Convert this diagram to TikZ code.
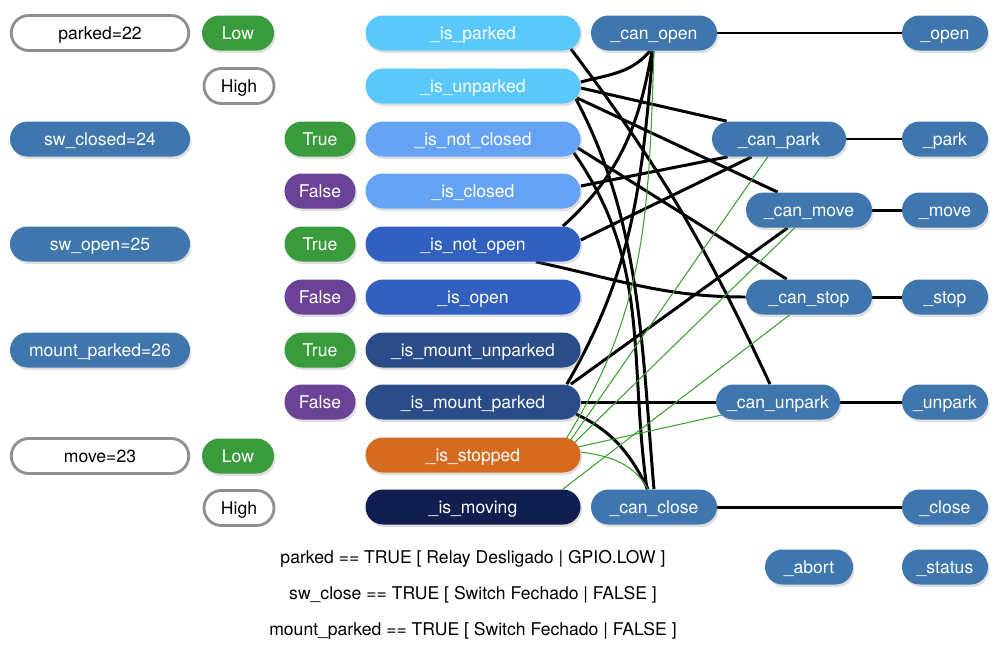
\documentclass[tikz,border=0pt]{standalone}
\usepackage{fontspec}
\setmainfont{TeX Gyre Heros}
\usetikzlibrary{positioning, calc, shadows, backgrounds}

\definecolor{pinblue}{RGB}{63,118,173}
\definecolor{lowgreen}{RGB}{58,155,60}
\definecolor{falsepurple}{RGB}{106,66,150}
\definecolor{parkcyan}{RGB}{90,200,250}
\definecolor{closedblue}{RGB}{103,163,245}
\definecolor{openblue}{RGB}{50,96,192}
\definecolor{mountblue}{RGB}{42,76,136}
\definecolor{stoporange}{RGB}{214,107,32}
\definecolor{movenavy}{RGB}{16,31,80}
\definecolor{bordergray}{RGB}{142,142,147}
\definecolor{wiregreen}{RGB}{60,160,50}

\begin{document}
\begin{tikzpicture}[x=0.2mm, y=0.2mm,
    pill/.style={rectangle, rounded corners=3.5mm, minimum height=7mm, inner sep=0pt, text=white, text height=1.8ex, text depth=0.45ex, font=\fontsize{10}{12}\selectfont},
    shadowed/.style={drop shadow={shadow xshift=0.3mm, shadow yshift=-0.5mm, opacity=0.25}},
    pinbox/.style={pill, shadowed, fill=pinblue, minimum width=36mm},
    pinwhite/.style={pill, fill=white, draw=bordergray, line width=1.6pt, text=black, minimum width=35.5mm},
    lowbox/.style={pill, shadowed, fill=lowgreen, minimum width=14.4mm},
    highbox/.style={pill, fill=white, draw=bordergray, line width=1.6pt, text=black, minimum width=14mm},
    truebox/.style={pill, shadowed, fill=lowgreen, minimum width=14.2mm},
    falsebox/.style={pill, shadowed, fill=falsepurple, minimum width=14.2mm},
    isbox/.style={pill, shadowed, minimum width=43mm},
    canbox/.style={pill, shadowed, fill=pinblue, minimum width=25.2mm},
    actbox/.style={pill, shadowed, fill=pinblue, minimum width=17.2mm},
    note/.style={font=\fontsize{10}{12}\selectfont, inner sep=0pt, text height=1.8ex, text depth=0.45ex},
    wire/.style={black, line width=1.7pt},
    greenwire/.style={wiregreen, line width=0.6pt}]

    \useasboundingbox (0, 0) rectangle (1000, -650);

    % gpio pins
    \node[pinwhite] (pin_parked) at (100, -33) {parked=22};
    \node[pinbox] (pin_sw_closed) at (100, -139) {sw\_closed=24};
    \node[pinbox] (pin_sw_open) at (100, -244) {sw\_open=25};
    \node[pinbox] (pin_mount_parked) at (100, -350) {mount\_parked=26};
    \node[pinwhite] (pin_move) at (100, -456) {move=23};

    % pin levels
    \node[lowbox] (parked_low) at (238, -33) {Low};
    \node[highbox] (parked_high) at (239, -86) {High};
    \node[truebox] (closed_true) at (320, -139) {True};
    \node[falsebox] (closed_false) at (320, -191) {False};
    \node[truebox] (open_true) at (320, -244) {True};
    \node[falsebox] (open_false) at (320, -297) {False};
    \node[truebox] (mount_true) at (320, -350) {True};
    \node[falsebox] (mount_false) at (320, -402) {False};
    \node[lowbox] (move_low) at (238, -456) {Low};
    \node[highbox] (move_high) at (239, -508) {High};

    % states
    \node[isbox, fill=parkcyan] (is_parked) at (473, -33) {\_is\_parked};
    \node[isbox, fill=parkcyan] (is_unparked) at (473, -86) {\_is\_unparked};
    \node[isbox, fill=closedblue] (is_not_closed) at (473, -139) {\_is\_not\_closed};
    \node[isbox, fill=closedblue] (is_closed) at (473, -191) {\_is\_closed};
    \node[isbox, fill=openblue] (is_not_open) at (473, -244) {\_is\_not\_open};
    \node[isbox, fill=openblue] (is_open) at (473, -297) {\_is\_open};
    \node[isbox, fill=mountblue] (is_mount_unparked) at (473, -350) {\_is\_mount\_unparked};
    \node[isbox, fill=mountblue] (is_mount_parked) at (473, -402) {\_is\_mount\_parked};
    \node[isbox, fill=stoporange] (is_stopped) at (473, -455) {\_is\_stopped};
    \node[isbox, fill=movenavy] (is_moving) at (473, -507) {\_is\_moving};

    % checks
    \node[canbox] (can_open) at (654, -33) {\_can\_open};
    \node[canbox, minimum width=26.8mm] (can_park) at (779, -139) {\_can\_park};
    \node[canbox] (can_move) at (809, -210) {\_can\_move};
    \node[canbox] (can_stop) at (809, -297) {\_can\_stop};
    \node[canbox, minimum width=24.8mm] (can_unpark) at (778, -402) {\_can\_unpark};
    \node[canbox] (can_close) at (654, -507) {\_can\_close};

    % actions
    \node[actbox] (act_open) at (945, -33) {\_open};
    \node[actbox] (act_park) at (945, -139) {\_park};
    \node[actbox] (act_move) at (945, -210) {\_move};
    \node[actbox] (act_stop) at (945, -297) {\_stop};
    \node[actbox] (act_unpark) at (945, -402) {\_unpark};
    \node[actbox] (act_close) at (945, -507) {\_close};
    \node[actbox, minimum width=17.6mm] (act_abort) at (809, -567) {\_abort};
    \node[actbox] (act_status) at (945, -567) {\_status};

    % legend
    \node[note] (note_parked) at (473, -557) {parked == TRUE [ Relay Desligado | GPIO.LOW ]};
    \node[note] (note_sw_close) at (473, -593) {sw\_close == TRUE [ Switch Fechado | FALSE ]};
    \node[note] (note_mount) at (473, -629) {mount\_parked == TRUE [ Switch Fechado | FALSE ]};

    \begin{scope}[on background layer]
    % checks to actions
    \draw[wire] (can_open) -- (act_open);
    \draw[wire] (can_park) -- (act_park);
    \draw[wire] (can_move) -- (act_move);
    \draw[wire] (can_stop) -- (act_stop);
    \draw[wire] (can_unpark) -- (act_unpark);
    \draw[wire] (can_close) -- (act_close);

    % states to checks
    \draw[wire] ($(is_unparked.east)+(0,4)$) to[out=15, in=-130] ($(can_open.south)+(-4,0)$);
    \draw[wire] ($(is_not_open.north east)+(-18,0)$) to[out=42, in=-100] ($(can_open.south)+(-2,0)$);
    \draw[wire] ($(is_mount_parked.north east)+(-14,0)$) to[out=60, in=-95] ($(can_open.south)+(-1,0)$);
    \draw[wire] ($(is_unparked.east)+(0,-2)$) -- ($(can_park.north west)+(15,0)$);
    \draw[wire] ($(is_unparked.south east)+(-4,6)$) -- ($(can_move.north west)+(32,0)$);
    \draw[wire] ($(is_unparked.south east)+(-5,5)$) to[out=-62, in=95, looseness=0.9] ($(can_close.north)+(0,0)$);
    \draw[wire] ($(is_not_closed.south east)+(-7,4)$) to[out=-55, in=98] ($(can_close.north)+(-7,0)$);
    \draw[wire] ($(is_parked.south east)+(-10,2)$) to[out=-53, in=115] ($(can_unpark.north)+(-8,0)$);
    \draw[wire] ($(is_not_closed.east)+(-3,-9)$) -- ($(can_stop.north west)+(41,0)$);
    \draw[wire] ($(is_closed.east)+(0,5)$) -- ($(can_park.south west)+(16,0)$);
    \draw[wire] ($(is_not_open.east)+(0,4)$) -- ($(can_park.south west)+(40,0)$);
    \draw[wire] ($(is_not_open.south east)+(-45,0)$) to[out=-12, in=180] (can_stop.west);
    \draw[wire] ($(is_mount_parked.north east)+(-10,0)$) -- ($(can_move.south west)+(42,0)$);
    \draw[wire] (is_mount_parked) -- (can_unpark);
    \draw[wire] ($(is_mount_parked.east)+(-5,-12)$) to[out=-25, in=117] ($(can_close.north)+(-6,0)$);

    % stopped / moving
    \draw[greenwire] ($(is_stopped.north east)+(-15,-2)$) to[out=58, in=-92] (can_open.south);
    \draw[greenwire] ($(is_stopped.north east)+(-11,-4)$) -- ($(can_park.south west)+(56,0)$);
    \draw[greenwire] ($(is_stopped.north east)+(-7,-6)$) -- ($(can_move.south west)+(49,0)$);
    \draw[greenwire] ($(is_stopped.east)+(-3,8)$) -- ($(can_unpark.west)+(6,-13)$);
    \draw[greenwire] ($(is_stopped.east)+(0,3)$) to[out=-8, in=120] ($(can_close.north)+(-6,0)$);
    \draw[greenwire] ($(is_moving.north east)+(-18,0)$) -- ($(can_stop.south west)+(44,0)$);
    \end{scope}

\end{tikzpicture}
\end{document}
